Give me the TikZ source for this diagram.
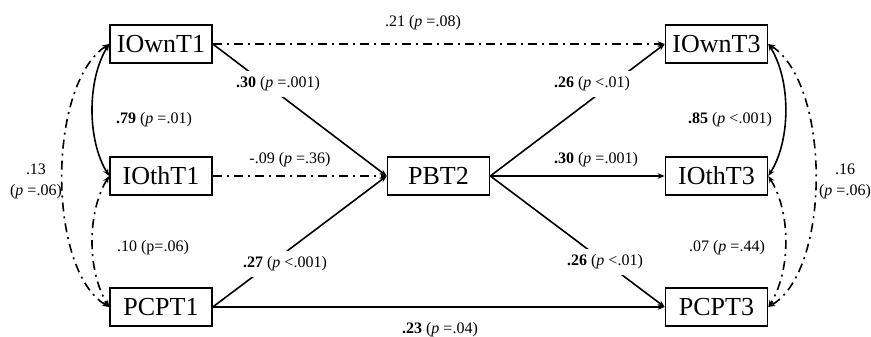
\documentclass[tikz,border=0pt]{standalone}
\usepackage{fontspec}
\setmainfont{Liberation Serif}
\usetikzlibrary{arrows.meta}
\begin{document}
\begin{tikzpicture}[x=1pt,y=-1pt,
  box/.style={draw, line width=1.6pt, minimum width=102pt, minimum height=38pt, inner sep=0pt, font=\fontsize{26}{26}\selectfont},
  lbl/.style={font=\fontsize{16}{21}\selectfont, inner sep=1pt, fill=white, align=center},
  gaplbl/.style={lbl, inner ysep=6pt},
  dd/.style={line width=1.6pt, dash pattern=on 9pt off 5pt on 2pt off 5pt},
  sol/.style={line width=1.6pt},
  arr/.style={-{Stealth[length=7pt,width=5.5pt]}},
  arrb/.style={{Stealth[length=7pt,width=5.5pt]}-{Stealth[length=7pt,width=5.5pt]}}
]
\useasboundingbox (0,0) rectangle (871,337);
\node[box] (own1) at (161,44) {IOwnT1};
\node[box] (oth1) at (161,176) {IOthT1};
\node[box] (pcp1) at (161,307) {PCPT1};
\node[box] (pbt) at (438.5,176) {PBT2};
\node[box] (own3) at (716.5,44) {IOwnT3};
\node[box] (oth3) at (716.5,176) {IOthT3};
\node[box] (pcp3) at (716.5,307) {PCPT3};

% straight paths
\draw[dd, arr] (own1.east) -- (own3.west);
\draw[sol, arr] (own1.east) -- (pbt.west);
\draw[dd, arr] (oth1.east) -- (pbt.west);
\draw[sol, arr] (pcp1.east) -- (pbt.west);
\draw[sol, arr] (pcp1.east) -- (pcp3.west);
\draw[sol, arr] (pbt.east) -- (own3.west);
\draw[sol, arr] (pbt.east) -- (oth3.west);
\draw[sol, arr] (pbt.east) -- (pcp3.west);

% left covariances
\draw[sol, arrb] (own1.west) .. controls (87,80) and (87,140) .. (oth1.west);
\draw[dd, arrb] (oth1.west) .. controls (87,212) and (87,271) .. (pcp1.west);
\draw[dd, arrb] (own1.west) .. controls (47,85) and (47,270) .. (pcp1.west);

% right covariances
\draw[sol, arrb] (own3.east) .. controls (791,80) and (791,140) .. (oth3.east);
\draw[dd, arrb] (oth3.east) .. controls (791,212) and (791,271) .. (pcp3.east);
\draw[dd, arrb] (own3.east) .. controls (831,85) and (831,270) .. (pcp3.east);

% labels
\node[lbl] (l21) at (423,23) {.21 (\textit{p} =.08)};
\node[gaplbl] (l30a) at (278,84) {\textbf{.30} (\textit{p} =.001)};
\node[lbl] (l79) at (154,120) {\textbf{.79} (\textit{p} =.01)};
\node[lbl] (l09) at (290,160) {-.09 (\textit{p} =.36)};
\node[lbl, fill=none] (l13) at (36,181) {.13\\(\textit{p} =.06)};
\node[lbl] (l10) at (153,248) {.10 (p=.06)};
\node[gaplbl] (l27) at (285,264) {\textbf{.27} (\textit{p} <.001)};
\node[lbl] (l23) at (440,330) {\textbf{.23} (\textit{p} =.04)};
\node[gaplbl] (l26a) at (592,84) {\textbf{.26} (\textit{p} <.01)};
\node[lbl] (l30b) at (596,160) {\textbf{.30} (\textit{p} =.001)};
\node[gaplbl] (l26b) at (605,262) {\textbf{.26} (\textit{p} <.01)};
\node[lbl] (l85) at (730,120) {\textbf{.85} (\textit{p} <.001)};
\node[lbl, fill=none] (l16) at (845,181) {.16\\(\textit{p} =.06)};
\node[lbl] (l07) at (727,248) {.07 (\textit{p} =.44)};
\end{tikzpicture}
\end{document}
